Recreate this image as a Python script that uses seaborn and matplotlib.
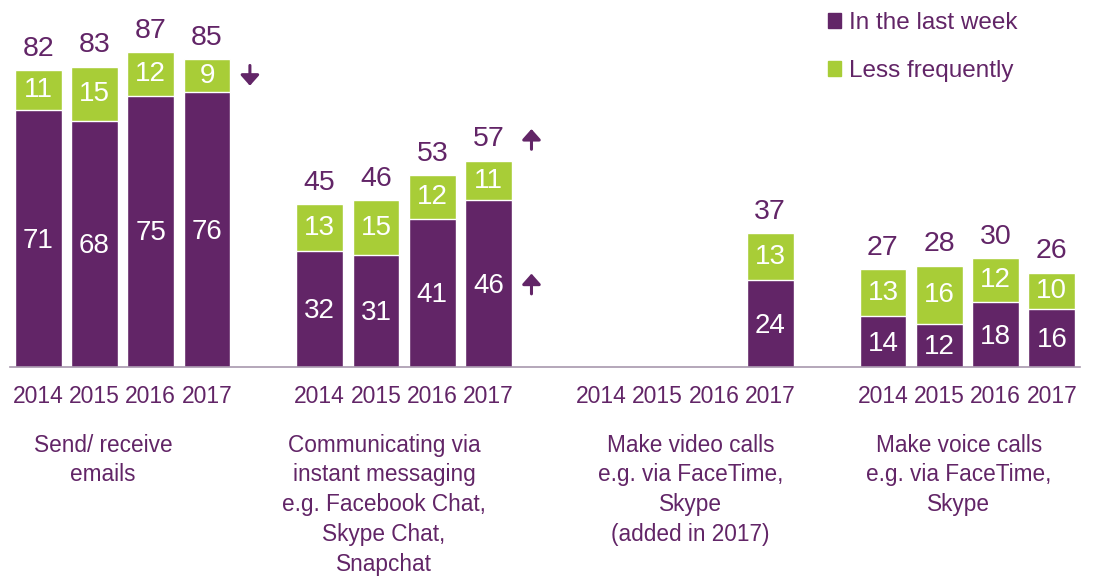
import numpy as np
import pandas as pd
import matplotlib.pyplot as plt
import seaborn as sns
from matplotlib.patches import Patch

# data
years = ['2014', '2015', '2016', '2017']
categories = [
    'Send/ receive\nemails',
    'Communicating via\ninstant messaging\ne.g. Facebook Chat,\nSkype Chat,\nSnapchat',
    'Make video calls\ne.g. via FaceTime,\nSkype\n(added in 2017)',
    'Make voice calls\ne.g. via FaceTime,\nSkype',
]
last_week = [[71, 68, 75, 76], [32, 31, 41, 46], [None, None, None, 24], [14, 12, 18, 16]]
less_freq = [[11, 15, 12, 9], [13, 15, 12, 11], [None, None, None, 13], [13, 16, 12, 10]]
totals = [[82, 83, 87, 85], [45, 46, 53, 57], [None, None, None, 37], [27, 28, 30, 26]]
# significance arrows: (category, year index, direction, which label)
changes = [(0, 3, 'down', 'less'), (1, 3, 'up', 'total'), (1, 3, 'up', 'last'), (3, 3, 'down', 'total')]

purple = '#622567'
green = '#A8CD37'
axis_col = '#A898AE'

rows = []
for g in range(len(categories)):
    for i, yr in enumerate(years):
        if last_week[g][i] is None:
            continue
        rows.append({'pos': g * 5 + i, 'year': yr, 'group': g,
                     'last_week': last_week[g][i], 'less_freq': less_freq[g][i],
                     'total': totals[g][i],
                     'stack': last_week[g][i] + less_freq[g][i]})
df = pd.DataFrame(rows)

sns.set_theme(style='white')
plt.rcParams['font.family'] = ['Liberation Sans', 'DejaVu Sans']

fig = plt.figure(figsize=(11.02, 5.76), dpi=100)
ax = fig.add_axes([10 / 1102, 209 / 576, 1070 / 1102, 362 / 576])

sns.barplot(data=df, x='pos', y='stack', native_scale=True, color=green,
            saturation=1, width=0.83, errorbar=None, ax=ax)
sns.barplot(data=df, x='pos', y='last_week', native_scale=True, color=purple,
            saturation=1, width=0.83, errorbar=None, ax=ax)

for _, r in df.iterrows():
    ax.text(r['pos'], r['last_week'] / 2 - 0.6, str(r['last_week']), ha='center', va='center',
            color='white', fontsize=20)
    ax.text(r['pos'], r['last_week'] + r['less_freq'] / 2, str(r['less_freq']),
            ha='center', va='center', color='white', fontsize=20)
    ax.annotate(str(r['total']), (r['pos'], r['stack']), xytext=(0, 15.5),
                textcoords='offset points', ha='center', va='center',
                color=purple, fontsize=20.5)

# arrows next to the 2017 bars
for g, i, d, which in changes:
    lw_, lf_ = last_week[g][i], less_freq[g][i]
    if which == 'last':
        yc = lw_ / 2
    elif which == 'less':
        yc = lw_ + lf_ / 2
    else:
        yc = lw_ + lf_ + 15.5 * 100 / 72 / 3.62
    x = g * 5 + i + 0.76
    half = 2.8
    tail, head = (yc + half, yc - half) if d == 'down' else (yc - half, yc + half)
    ax.annotate('', xy=(x, head), xytext=(x, tail),
                arrowprops=dict(arrowstyle='-|>,head_length=0.45,head_width=0.4',
                                mutation_scale=14, lw=2.2, color=purple,
                                shrinkA=0, shrinkB=0))

ax.set_xlim(-0.5, 18.5)
ax.set_ylim(0, 100)
ax.set_xlabel('')
ax.set_ylabel('')
ax.set_yticks([])

positions = [g * 5 + i for g in range(len(categories)) for i in range(len(years))]
ax.set_xticks(positions)
ax.set_xticklabels(years * len(categories), color=purple, fontsize=16.5)
ax.set_xticks(np.arange(-0.5, 19, 1), minor=True)
ax.tick_params(axis='x', which='major', length=0, pad=13)
ax.tick_params(axis='x', which='minor', length=6, width=1.2, color=axis_col)

for s in ['top', 'left', 'right']:
    ax.spines[s].set_visible(False)
ax.spines['bottom'].set_color(axis_col)
ax.spines['bottom'].set_linewidth(1.2)

# category captions under the years
label_x = [1.15, 6.14, 11.58, 16.35]
for cx, cat in zip(label_x, categories):
    ax.text(cx, -0.184, cat, transform=ax.get_xaxis_transform(), ha='center', va='top',
            color=purple, fontsize=16.3, linespacing=1.38)

handles = [Patch(color=purple, label='In the last week'),
           Patch(color=green, label='Less frequently')]
fig.legend(handles=handles, loc='upper left', bbox_to_anchor=(828 / 1102, 1 - 12 / 576),
           frameon=False, fontsize=17.5, handlelength=0.55, handleheight=0.55,
           handletextpad=0.3, labelspacing=1.07, borderpad=0, borderaxespad=0,
           labelcolor=purple)

fig.savefig('out.png', dpi=100)
